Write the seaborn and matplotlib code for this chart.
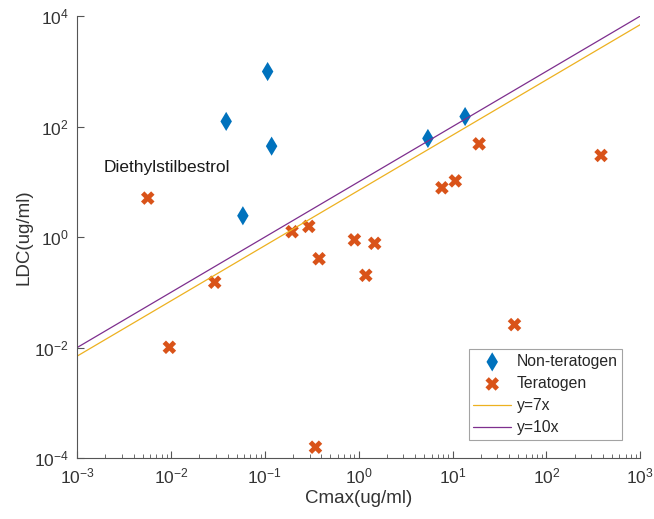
import numpy as np
import pandas as pd
import seaborn as sns
import matplotlib.pyplot as plt
from matplotlib.ticker import LogLocator, NullLocator, NullFormatter

# Non-teratogen compounds
non_cmax = [0.0387, 0.107, 0.118, 0.0583, 5.46, 13.6]
non_ldc = [124, 991, 44.2, 2.43, 61, 152]

# Teratogen compounds
ter_cmax = [0.00565, 0.0096, 0.0292, 0.195, 0.294, 0.378, 0.346, 0.9,
            1.19, 1.48, 7.7, 10.7, 19.2, 45.7, 382]
ter_ldc = [5.07, 0.0101, 0.152, 1.25, 1.56, 0.405, 1.57e-4, 0.89,
           0.203, 0.77, 7.8, 10.4, 48.7, 0.026, 30]

# reference lines y = k * x
line_x = np.array([1e-3, 1e3])
line_k = [7, 10]

label_x, label_y = 0.0019, 18.4

blue = "#0072BD"
orange = "#D95319"
yellow = "#EDB120"
purple = "#7E2F8E"
axis_col = "#555555"

sns.set_style("ticks")
plt.rcParams["font.family"] = ["Liberation Sans", "DejaVu Sans"]
plt.rcParams["axes.edgecolor"] = axis_col
plt.rcParams["xtick.color"] = axis_col
plt.rcParams["ytick.color"] = axis_col
plt.rcParams["xtick.labelcolor"] = "#333333"
plt.rcParams["ytick.labelcolor"] = "#333333"

fig = plt.figure(figsize=(6.54, 5.19), dpi=100)
ax = fig.add_axes([0.118, 0.1175, 0.861, 0.8515])

non_df = pd.DataFrame({"Cmax": non_cmax, "LDC": non_ldc})
ter_df = pd.DataFrame({"Cmax": ter_cmax, "LDC": ter_ldc})

sns.scatterplot(data=non_df, x="Cmax", y="LDC", marker="d", s=95,
                color=blue, edgecolor="none", label="Non-teratogen", ax=ax)
sns.scatterplot(data=ter_df, x="Cmax", y="LDC", marker="X", s=95,
                color=orange, edgecolor="none", label="Teratogen", ax=ax)

for k, col in zip(line_k, [yellow, purple]):
    line_df = pd.DataFrame({"x": line_x, "y": k * line_x})
    sns.lineplot(data=line_df, x="x", y="y", color=col, lw=0.9,
                 label=f"y={k}x", ax=ax)

ax.set_xscale("log")
ax.set_yscale("log")
ax.set_xlim(1e-3, 1e3)
ax.set_ylim(1e-4, 1e4)
ax.set_yticks([1e-4, 1e-2, 1, 1e2, 1e4])
ax.yaxis.set_minor_locator(NullLocator())
ax.xaxis.set_major_locator(LogLocator(base=10, numticks=10))
ax.xaxis.set_minor_locator(LogLocator(base=10, subs=np.arange(2, 10), numticks=10))
ax.xaxis.set_minor_formatter(NullFormatter())

ax.tick_params(which="major", direction="in", length=5, width=0.8,
               labelsize=12.5, pad=6)
ax.tick_params(which="minor", direction="in", length=3, width=0.6)
for sp in ["top", "right"]:
    ax.spines[sp].set_visible(False)
for sp in ["left", "bottom"]:
    ax.spines[sp].set_linewidth(0.8)

ax.set_xlabel("Cmax(ug/ml)", fontsize=13.5, color="#333333", labelpad=3)
ax.set_ylabel("LDC(ug/ml)", fontsize=13.5, color="#333333", labelpad=1)

ax.text(label_x, label_y, "Diethylstilbestrol", fontsize=12.5,
        va="center", ha="left", color="#1a1a1a")

leg = ax.legend(loc="lower right", bbox_to_anchor=(0.968, 0.041),
                borderaxespad=0, fontsize=11.3, frameon=True, fancybox=False,
                handlelength=2.4, borderpad=0.3, labelspacing=0.45,
                handletextpad=0.35)
leg.get_frame().set_edgecolor("#8c8c8c")
leg.get_frame().set_linewidth(0.8)

fig.savefig("out.png", dpi=100)
